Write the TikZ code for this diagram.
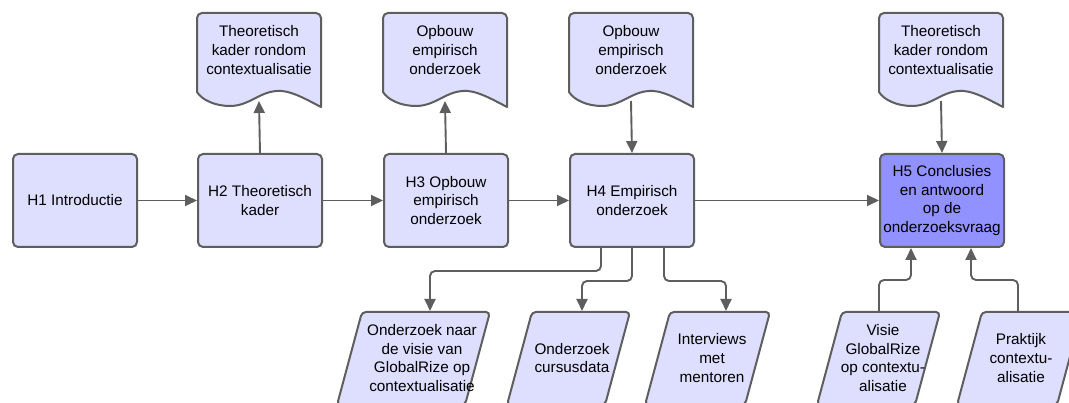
\documentclass[tikz,border=0pt]{standalone}
\usepackage{fontspec}
\setmainfont{Liberation Sans}
\usetikzlibrary{arrows.meta}
\definecolor{boxfill}{RGB}{222,222,255}
\definecolor{boxdark}{RGB}{145,145,255}
\definecolor{edgegray}{RGB}{94,94,94}
\newcommand\mydoc[4]{%
  \draw[shapeline] (#1,92) [rounded corners=5pt] -- (#1,13) -- (#1+124,13) [sharp corners] -- (#1+124,107)
    .. controls (#1+105,97) and (#1+92,90) .. (#1+80,91)
    .. controls (#1+62,92) and (#1+52,106) .. (#1+33,106)
    .. controls (#1+18,106) and (#1+5,100) .. (#1,92) -- cycle;
  \coordinate (#2) at (#1+62,101);
  \node[txt] (#3) at (#1+62,50) {#4};
}
\newcommand\mypara[6]{% #1 top-left x, #2 width, #3 top coord name, #4 text node name, #5 text x, #6 text
  \draw[shapeline, rounded corners=4pt] (#1,312) -- (#1+#2,312) -- (#1+#2-25,405) -- (#1-25,405) -- cycle;
  \node[txt] (#4) at (#5,358) {#6};
}
\begin{document}
\begin{tikzpicture}[x=1pt,y=-1pt,
  txt/.style={font=\fontsize{15.3}{18.7}\selectfont, align=center, text=black, inner sep=0pt},
  chap/.style={txt, draw=edgegray, line width=2pt, fill=boxfill, rounded corners=5pt,
    minimum width=124pt, minimum height=93pt, anchor=north west},
  conn/.style={draw=edgegray, line width=1.9pt, -{Triangle[length=12pt,width=11pt]}, rounded corners=5pt},
  shapeline/.style={draw=edgegray, line width=2pt, fill=boxfill, line join=round}]
\useasboundingbox (0,0) rectangle (1069,403);
\clip (0,0) rectangle (1069,403);

% main chapter boxes
\node[chap] (h1) at (12,153) {H1 Introductie};
\node[chap] (h2) at (197,153) {H2 Theoretisch\\kader};
\node[chap] (h3) at (383,153) {H3 Opbouw\\empirisch\\onderzoek};
\node[chap] (h4) at (569,153) {H4 Empirisch\\onderzoek};
\node[chap, fill=boxdark] (h5) at (879,153) {H5 Conclusies\\en antwoord\\op de\\onderzoeksvraag};

% documents
\mydoc{197}{w2}{d2}{Theoretisch\\kader rondom\\contextualisatie}
\mydoc{383}{w3}{d3}{Opbouw\\empirisch\\onderzoek}
\mydoc{569}{w4}{d4}{Opbouw\\empirisch\\onderzoek}
\mydoc{879}{w5}{d5}{Theoretisch\\kader rondom\\contextualisatie}

% parallelograms
\mypara{362}{128}{pa}{ta}{422}{Onderzoek naar\\de visie van\\GlobalRize op\\contextualisatie}
\mypara{532}{98}{pb}{tb}{572}{Onderzoek\\cursusdata}
\mypara{670}{100}{pc}{tc}{712}{Interviews\\met\\mentoren}
\mypara{842}{98}{pd}{td}{883}{Visie\\GlobalRize\\op contextu-\\alisatie}
\mypara{982}{100}{pe}{te}{1021}{Praktijk\\contextu-\\alisatie}
\coordinate (pa) at (430,311);
\coordinate (pb) at (582,311);
\coordinate (pc) at (726,311);
\coordinate (pd) at (879,312);
\coordinate (pe) at (1018,312);

% main flow
\draw[conn] (h1) -- (h2);
\draw[conn] (h2) -- (h3);
\draw[conn] (h3) -- (h4);
\draw[conn] (h4) -- (h5);

% documents links
\draw[conn] (h2.north) -- (w2);
\draw[conn] (h3.north) -- (w3);
\draw[conn] (w4) -- (h4.north);
\draw[conn] (w5) -- (h5.north);

% H4 branches
\draw[conn] ([xshift=-31pt]h4.south) -- ++(0,23) -| (pa);
\draw[conn] (h4.south) -- ++(0,33) -| (pb);
\draw[conn] ([xshift=32pt]h4.south) -- ++(0,33) -| (pc);

% inputs to H5
\draw[conn] (pd) -- ++(0,-32) -| ([xshift=-31pt]h5.south);
\draw[conn] (pe) -- ++(0,-32) -| ([xshift=29pt]h5.south);
\end{tikzpicture}
\end{document}
